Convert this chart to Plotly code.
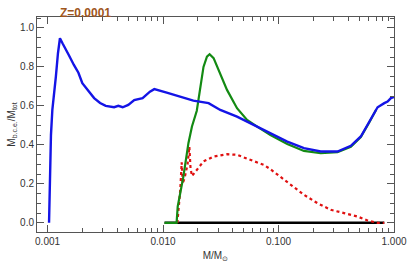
import plotly.graph_objects as go
import numpy as np

blue_x = [0.00103, 0.00105, 0.00107, 0.00110, 0.00114, 0.00118, 0.00123, 0.00128, 0.00135,
          0.00145, 0.00153, 0.00169, 0.00185, 0.00200, 0.00225, 0.00253, 0.00285, 0.00319,
          0.00377, 0.00410, 0.00447, 0.00500, 0.00563, 0.00665, 0.0077,
          0.0084, 0.01076, 0.0141, 0.0183, 0.0248, 0.0313, 0.0437, 0.0571, 0.0746, 0.0851,
          0.119, 0.166, 0.232, 0.324, 0.423, 0.516, 0.61, 0.721, 0.824, 0.88, 0.94, 1.0]
blue_y = [0.00, 0.25, 0.45, 0.58, 0.66, 0.75, 0.87, 0.947, 0.92,
          0.89, 0.86, 0.81, 0.77, 0.716, 0.675, 0.64, 0.615, 0.60,
          0.593, 0.60, 0.593, 0.605, 0.63, 0.64, 0.673,
          0.686, 0.668, 0.648, 0.627, 0.614, 0.579, 0.545, 0.511, 0.48, 0.463,
          0.417, 0.383, 0.366, 0.366, 0.395, 0.443, 0.52, 0.593, 0.614, 0.622, 0.64, 0.645]

green_x = [0.0103, 0.0131, 0.0134, 0.0150, 0.0166, 0.0178, 0.0196, 0.0210, 0.0224, 0.0240,
           0.0253, 0.0274, 0.0313, 0.0358, 0.0437, 0.0534, 0.0653, 0.0798, 0.0851, 0.119,
           0.166, 0.232, 0.324, 0.423, 0.516, 0.61, 0.70]
green_y = [0.0, 0.0, 0.084, 0.237, 0.41, 0.494, 0.575, 0.682, 0.80, 0.853,
           0.865, 0.845, 0.768, 0.682, 0.588, 0.528, 0.494, 0.462, 0.45, 0.405,
           0.369, 0.357, 0.362, 0.39, 0.44, 0.515, 0.58]

red_x = [0.0133, 0.0136, 0.0141, 0.0145, 0.0148, 0.0155, 0.0163, 0.0169, 0.0173, 0.0178,
         0.0196, 0.0224, 0.0274, 0.0358, 0.0437, 0.0571, 0.0746, 0.0851, 0.104, 0.127,
         0.166, 0.217, 0.283, 0.37, 0.484, 0.59, 0.72, 0.824]
red_y = [0.0, 0.067, 0.17, 0.31, 0.20, 0.24, 0.30, 0.39, 0.28, 0.24,
         0.27, 0.315, 0.34, 0.352, 0.349, 0.323, 0.297, 0.275, 0.237, 0.195,
         0.144, 0.101, 0.067, 0.05, 0.032, 0.012, 0.0, 0.0]

black_x = [0.0103, 0.824]
black_y = [0.0, 0.0]

x_tickvals = [0.001, 0.01, 0.1, 1.0]
x_ticktext = ["0.001", "0.010", "0.100", "1.000"]
y_tickvals = [0.0, 0.2, 0.4, 0.6, 0.8, 1.0]
y_ticktext = ["0.0", "0.2", "0.4", "0.6", "0.8", "1.0"]

x_minor = [m * 10.0 ** e for e in (-3, -2, -1) for m in range(2, 10)]
y_minor = [round(0.05 * i, 2) for i in range(0, 22)]

fig = go.Figure()
fig.add_trace(go.Scatter(x=black_x, y=black_y, mode="lines",
                         line=dict(color="black", width=2.5), showlegend=False))
fig.add_trace(go.Scatter(x=red_x, y=red_y, mode="lines",
                         line=dict(color="#e01010", width=2.2, dash="dot"), showlegend=False))
fig.add_trace(go.Scatter(x=green_x, y=green_y, mode="lines",
                         line=dict(color="#138a13", width=2.2), showlegend=False))
fig.add_trace(go.Scatter(x=blue_x, y=blue_y, mode="lines",
                         line=dict(color="#1414e6", width=2.4), showlegend=False))

axis_common = dict(showgrid=False, zeroline=False, showline=True, linecolor="#555555",
                   linewidth=1, ticks="inside", mirror="ticks", tickcolor="#555555",
                   ticklen=7, tickwidth=1, automargin=False,
                   tickfont=dict(family="Liberation Sans, Arial", size=10, color="#333333"))

fig.update_xaxes(type="log", range=[np.log10(0.00081), 0.0], tickvals=x_tickvals,
                 ticktext=x_ticktext,
                 minor=dict(tickvals=x_minor, ticks="inside", ticklen=4, tickcolor="#555555"),
                 title=dict(text="M/M<sub>\u2299</sub>", standoff=7,
                            font=dict(family="Liberation Sans, Arial", size=10, color="#333333")),
                 **axis_common)
fig.update_yaxes(range=[-0.047, 1.056], tickvals=y_tickvals, ticktext=y_ticktext,
                 minor=dict(tickvals=y_minor, ticks="inside", ticklen=4, tickcolor="#555555"),
                 title=dict(text="M<sub>b.c.e.</sub>/M<sub>tot</sub>", standoff=2,
                            font=dict(family="Liberation Sans, Arial", size=10, color="#333333")),
                 **axis_common)

fig.add_annotation(text="<b>Z=0.0001</b>", xref="paper", yref="paper", x=0.03, y=1.0,
                   xanchor="left", yanchor="bottom", showarrow=False, yshift=-5, xshift=10,
                   font=dict(family="Liberation Sans, Arial", size=12, color="#a0561c"))

fig.update_layout(width=407, height=262, margin=dict(l=37, r=13, t=17, b=30),
                  paper_bgcolor="white", plot_bgcolor="white")

fig.write_html("out.html", config={"displayModeBar": False},
               post_script="document.body.style.margin='0px';")
